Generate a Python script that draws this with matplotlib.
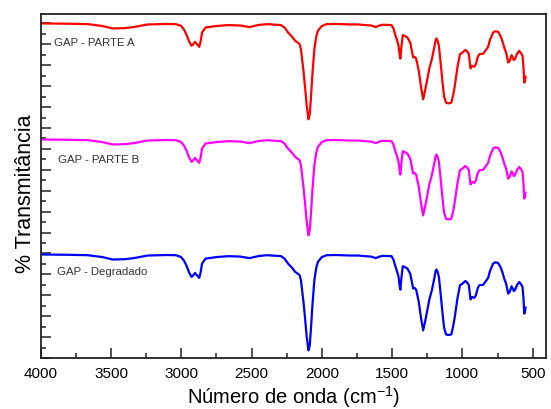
import matplotlib
matplotlib.use("Agg")
import matplotlib.pyplot as plt
from matplotlib.ticker import MultipleLocator, NullFormatter

plt.rcParams['font.family'] = ['Liberation Sans', 'DejaVu Sans']
plt.rcParams['mathtext.fontset'] = 'custom'
plt.rcParams['mathtext.rm'] = 'Liberation Sans'

wavenumber = [
    4000, 3800, 3663, 3560, 3488, 3400, 3339, 3239, 3100, 3039,
    3002, 2980, 2964, 2945, 2927, 2915, 2902, 2888, 2872, 2862,
    2852, 2827, 2750, 2665, 2580, 2515, 2450, 2390, 2290, 2265,
    2240, 2210, 2190, 2170, 2158, 2148, 2140, 2130, 2120, 2108,
    2095, 2086, 2078, 2066, 2053, 2040, 2028, 2000, 1966, 1900,
    1800, 1741, 1700, 1650, 1616, 1590, 1566, 1504, 1490, 1479,
    1465, 1454, 1446, 1441, 1435, 1424, 1410, 1391, 1371, 1350,
    1340, 1329, 1310, 1295, 1279, 1265, 1254, 1235, 1217, 1200,
    1190, 1184, 1175, 1167, 1155, 1141, 1130, 1116, 1100, 1079,
    1066, 1054, 1035, 1017, 1000, 979, 965, 954, 942, 930,
    915, 904, 890, 879, 852, 830, 817, 804, 781, 767,
    746, 729, 715, 700, 689, 674, 664, 650, 640, 634,
    626, 610, 596, 585, 572, 565, 560, 555, 551,
]

parte_a = [
    32.0, 31.97, 31.93, 31.75, 31.52, 31.55, 31.65, 31.9, 31.95, 31.93,
    31.77, 31.4, 30.97, 30.3, 29.86, 30.0, 30.24, 30.0, 29.76, 30.3,
    31.13, 31.61, 31.75, 31.84, 31.8, 31.65, 31.85, 31.93, 31.84, 31.6,
    31.13, 30.7, 30.34, 30.15, 30.02, 29.5, 28.58, 27.4, 26.02, 24.2,
    22.83, 23.3, 24.74, 27.3, 29.54, 30.7, 31.29, 31.75, 31.93, 31.95,
    31.9, 31.9, 31.85, 31.8, 31.65, 31.8, 31.87, 31.84, 31.5, 30.97,
    30.4, 29.86, 29.0, 28.64, 29.6, 30.88, 30.8, 30.65, 30.17, 28.74,
    28.8, 28.64, 27.46, 26.0, 24.74, 25.6, 26.34, 27.7, 28.58, 29.7,
    30.45, 30.56, 30.3, 29.86, 28.3, 26.34, 25.0, 24.42, 24.35, 24.42,
    25.1, 26.02, 27.8, 29.06, 29.2, 29.47, 29.3, 29.06, 27.7, 27.94,
    27.85, 28.1, 28.8, 29.06, 29.1, 29.5, 29.75, 30.4, 31.14, 31.25,
    31.2, 30.81, 30.3, 29.6, 29.22, 28.26, 28.4, 28.96, 28.7, 28.5,
    28.6, 29.1, 29.37, 29.2, 28.9, 27.8, 26.34, 26.5, 26.92,
]

parte_b = [
    20.9, 20.87, 20.83, 20.65, 20.42, 20.45, 20.55, 20.8, 20.85, 20.83,
    20.67, 20.3, 19.87, 19.2, 18.76, 18.9, 19.14, 18.9, 18.66, 19.2,
    20.03, 20.51, 20.65, 20.74, 20.7, 20.55, 20.75, 20.83, 20.74, 20.5,
    20.03, 19.6, 19.24, 19.05, 18.92, 18.4, 17.48, 16.3, 14.92, 13.1,
    11.73, 12.2, 13.64, 16.2, 18.44, 19.6, 20.19, 20.65, 20.83, 20.85,
    20.8, 20.8, 20.75, 20.7, 20.55, 20.7, 20.77, 20.74, 20.4, 19.87,
    19.3, 18.76, 17.9, 17.54, 18.5, 19.78, 19.7, 19.55, 19.07, 17.64,
    17.7, 17.54, 16.36, 14.9, 13.64, 14.5, 15.24, 16.6, 17.48, 18.6,
    19.35, 19.46, 19.2, 18.76, 17.2, 15.24, 13.9, 13.32, 13.25, 13.32,
    14.0, 14.92, 16.7, 17.96, 18.1, 18.37, 18.2, 17.96, 16.6, 16.84,
    16.75, 17.0, 17.7, 17.96, 18.0, 18.4, 18.65, 19.3, 20.04, 20.15,
    20.1, 19.71, 19.2, 18.5, 18.12, 17.16, 17.3, 17.86, 17.6, 17.4,
    17.5, 18.0, 18.27, 18.1, 17.8, 16.7, 15.24, 15.4, 15.82,
]

degradado = [
    9.9, 9.87, 9.83, 9.65, 9.42, 9.45, 9.55, 9.8, 9.85, 9.83,
    9.67, 9.3, 8.87, 8.2, 7.76, 7.9, 8.14, 7.9, 7.66, 8.2,
    9.03, 9.51, 9.65, 9.74, 9.7, 9.55, 9.75, 9.83, 9.74, 9.5,
    9.03, 8.6, 8.24, 8.05, 7.92, 7.4, 6.48, 5.3, 3.92, 2.1,
    0.73, 1.2, 2.64, 5.2, 7.44, 8.6, 9.19, 9.65, 9.83, 9.85,
    9.8, 9.8, 9.75, 9.7, 9.55, 9.7, 9.77, 9.74, 9.4, 8.87,
    8.3, 7.76, 6.9, 6.54, 7.5, 8.78, 8.7, 8.55, 8.07, 6.64,
    6.7, 6.54, 5.36, 3.9, 2.64, 3.5, 4.24, 5.6, 6.48, 7.6,
    8.35, 8.46, 8.2, 7.76, 6.2, 4.24, 2.9, 2.25, 2.2, 2.25,
    3.0, 3.92, 5.7, 6.96, 7.1, 7.37, 7.2, 6.96, 5.6, 5.84,
    5.75, 6.0, 6.7, 6.96, 7.0, 7.4, 7.65, 8.3, 9.04, 9.15,
    9.1, 8.71, 8.2, 7.5, 7.12, 6.16, 6.3, 6.86, 6.6, 6.4,
    6.5, 7.0, 7.27, 7.1, 6.8, 5.7, 4.24, 4.4, 4.82,
]

series_labels = ["GAP - PARTE A", "GAP - PARTE B", "GAP - Degradado"]
series_colors = ["#ff0000", "#ff00ff", "#0000ff"]
label_x = [3905, 3877, 3882]
label_y = [30.2, 19.0, 8.35]

fig = plt.figure(figsize=(5.51, 4.10), dpi=100)
ax = fig.add_axes([40.7 / 551, 1 - 359 / 410, (546 - 40.7) / 551, (359 - 15) / 410])

for vals, col in zip([parte_a, parte_b, degradado], series_colors):
    ax.plot(wavenumber, vals, color=col, lw=1.6, solid_joinstyle='round')

for txt, x, y in zip(series_labels, label_x, label_y):
    ax.text(x, y, txt, fontsize=8.2, color='#333333', ha='left', va='center')

ax.set_xlim(4000, 405)
ax.set_ylim(0, 32.9)
ax.xaxis.set_major_locator(MultipleLocator(500))
ax.xaxis.set_minor_locator(MultipleLocator(250))
ax.yaxis.set_major_locator(MultipleLocator(2))
ax.yaxis.set_minor_locator(MultipleLocator(1))
ax.yaxis.set_major_formatter(NullFormatter())
ax.tick_params(axis='both', which='major', direction='in', length=7, width=1.1, color='#222222')
ax.tick_params(axis='both', which='minor', direction='in', length=3.5, width=1.1, color='#222222')
ax.tick_params(axis='x', which='major', labelsize=11, pad=6)
ax.tick_params(top=False, right=False, which='both')
for s in ax.spines.values():
    s.set_linewidth(1.3)
    s.set_color('#222222')

ax.set_xlabel("Número de onda (cm$^{\\mathregular{-1}}$)", fontsize=14.5, labelpad=2)
ax.set_ylabel("% Transmitância", fontsize=15.5)
ax.yaxis.set_label_coords(-0.01, 0.48)

fig.savefig("out.png", dpi=100)
